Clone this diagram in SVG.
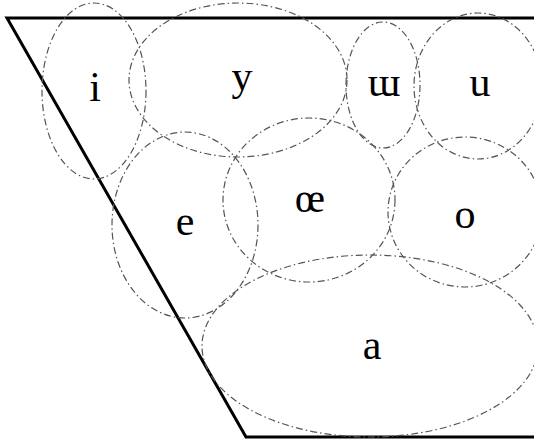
<svg xmlns="http://www.w3.org/2000/svg" width="534" height="445" viewBox="0 0 534 445">
<style>
.r{fill:none;stroke:#555;stroke-width:1.2;stroke-dasharray:7,3,1.5,3}
.t{font-family:"Liberation Serif","Times New Roman",serif;font-size:42px;fill:#000;text-anchor:middle}
.b{fill:none;stroke:#000;stroke-width:3;stroke-linejoin:miter}
</style>
<rect width="534" height="445" fill="#fff"/>
<g id="frame"><path class="b" d="M534,18 H7 L246,437 H534"/></g>
<g id="i"><ellipse class="r" cx="94" cy="91" rx="52" ry="88"/><text class="t" x="95" y="101">i</text></g>
<g id="y"><ellipse class="r" cx="238" cy="80" rx="109" ry="77"/><text class="t" x="242" y="90">y</text></g>
<g id="ɯ"><ellipse class="r" cx="383" cy="85" rx="37" ry="63"/><text class="t" x="384" y="96">ɯ</text></g>
<g id="u"><ellipse class="r" cx="478" cy="86" rx="64" ry="73"/><text class="t" x="480" y="96">u</text></g>
<g id="e"><ellipse class="r" cx="185" cy="225" rx="73" ry="93"/><text class="t" x="185" y="235">e</text></g>
<g id="oe"><ellipse class="r" cx="309" cy="200" rx="86" ry="82"/><text class="t" x="310" y="212">œ</text></g>
<g id="o"><ellipse class="r" cx="465" cy="212" rx="77" ry="75"/><text class="t" x="465" y="228">o</text></g>
<g id="a"><ellipse class="r" cx="370" cy="346" rx="168" ry="91"/><text class="t" x="372" y="359">a</text></g>
</svg>
